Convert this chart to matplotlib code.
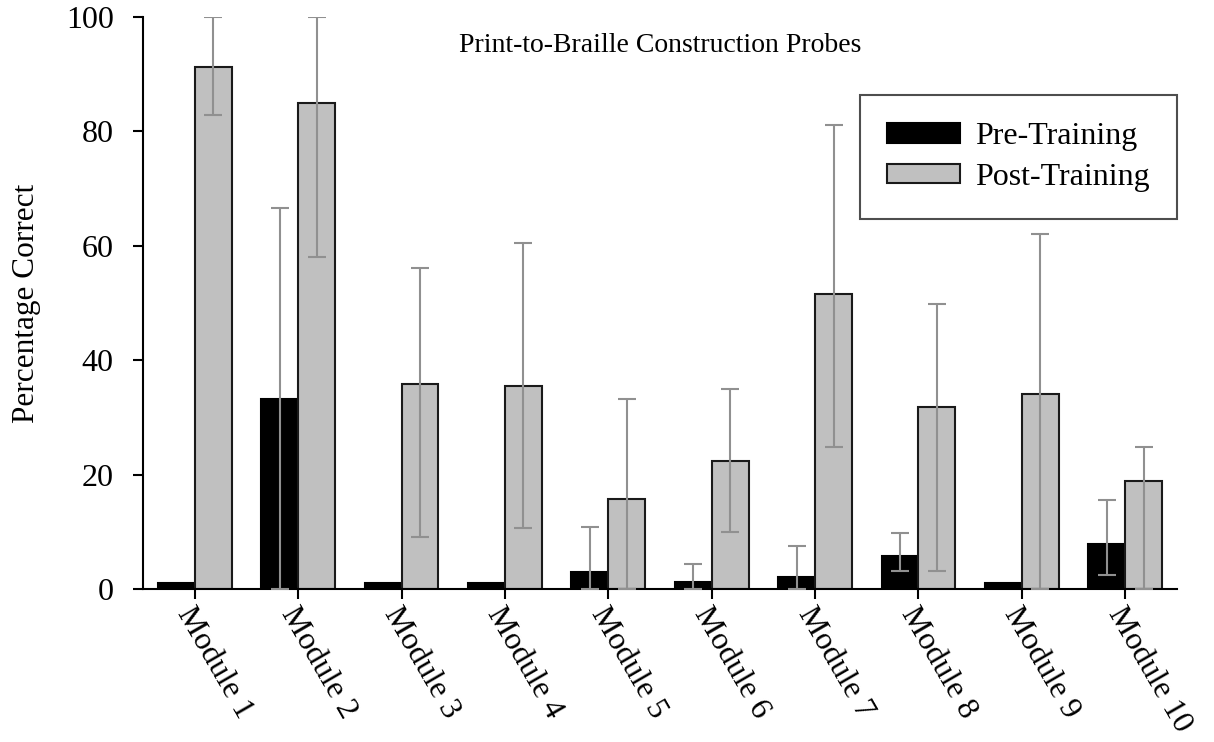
import numpy as np
import matplotlib
matplotlib.use('Agg')
import matplotlib.pyplot as plt
from matplotlib.transforms import ScaledTranslation

modules = ['Module 1', 'Module 2', 'Module 3', 'Module 4', 'Module 5',
           'Module 6', 'Module 7', 'Module 8', 'Module 9', 'Module 10']

pre = [1, 33.3, 1, 1, 3.0, 1.2, 2.1, 5.8, 1, 7.9]
pre_low = [None, 0, None, None, 0, 0, 0, 3.1, None, 2.5]
pre_high = [None, 66.6, None, None, 10.9, 4.3, 7.5, 9.8, None, 15.6]

post = [91.3, 84.9, 35.9, 35.5, 15.7, 22.3, 51.6, 31.8, 34.1, 18.8]
post_low = [82.9, 58.1, 9.1, 10.6, 0, 9.9, 24.8, 3.1, 0, 0]
post_high = [100, 100, 56.1, 60.5, 33.3, 35.0, 81.2, 49.8, 62.0, 24.9]

plt.rcParams['font.family'] = ['Liberation Serif', 'DejaVu Serif']

fig = plt.figure(figsize=(12.14, 7.42), dpi=100)
ax = fig.add_axes([0.1178, 0.2062, 0.8517, 0.7708])

x = np.arange(1, len(modules) + 1)
w = 0.357

ax.bar(x - w / 2, pre, w, color='black', edgecolor='black', linewidth=1.5,
       label='Pre-Training', zorder=2)
ax.bar(x + w / 2, post, w, color='#c0c0c0', edgecolor='#1a1a1a', linewidth=1.5,
       label='Post-Training', zorder=2)

err_kw = dict(fmt='none', ecolor='#909090', elinewidth=1.5, capsize=6.5,
              capthick=1.5, zorder=3)

idx = [i for i in range(len(pre)) if pre_low[i] is not None]
pv = np.array([pre[i] for i in idx])
lo = pv - np.array([pre_low[i] for i in idx])
hi = np.array([pre_high[i] for i in idx]) - pv
ax.errorbar(x[idx] - w / 2, pv, yerr=[lo, hi], **err_kw)

qv = np.array(post)
ax.errorbar(x + w / 2, qv, yerr=[qv - np.array(post_low), np.array(post_high) - qv],
            **err_kw)

ax.set_xlim(0.5, 10.5)
ax.set_ylim(0, 100)
ax.set_yticks([0, 20, 40, 60, 80, 100])
ax.set_xticks(x)
ax.set_xticklabels([])

# rotated module names, nudged a little left of each tick
trans = ax.get_xaxis_transform() + ScaledTranslation(-0.11, -0.2, fig.dpi_scale_trans)
for xi, name in zip(x, modules):
    ax.text(xi, 0, name, transform=trans, rotation=-60, rotation_mode='anchor',
            ha='left', va='center', fontsize=23, clip_on=False)

for s in ['top', 'right']:
    ax.spines[s].set_visible(False)
for s in ['left', 'bottom']:
    ax.spines[s].set_linewidth(1.5)
ax.tick_params(direction='out', length=7, width=1.5, labelsize=23)
ax.tick_params(axis='y', pad=14)

ax.set_ylabel('Percentage Correct', fontsize=22.5, labelpad=18)
ax.text(0.5, 0.951, 'Print-to-Braille Construction Probes', transform=ax.transAxes,
        ha='center', va='center', fontsize=20)

leg = ax.legend(loc='upper right', bbox_to_anchor=(1.0, 0.8636), fontsize=23,
                frameon=True, fancybox=False, edgecolor='#222222',
                handlelength=2.3, handleheight=0.55, borderpad=0.85,
                borderaxespad=0, labelspacing=0.37, handletextpad=0.47)
leg.get_frame().set_linewidth(1.5)

fig.savefig('out.png', dpi=100)
